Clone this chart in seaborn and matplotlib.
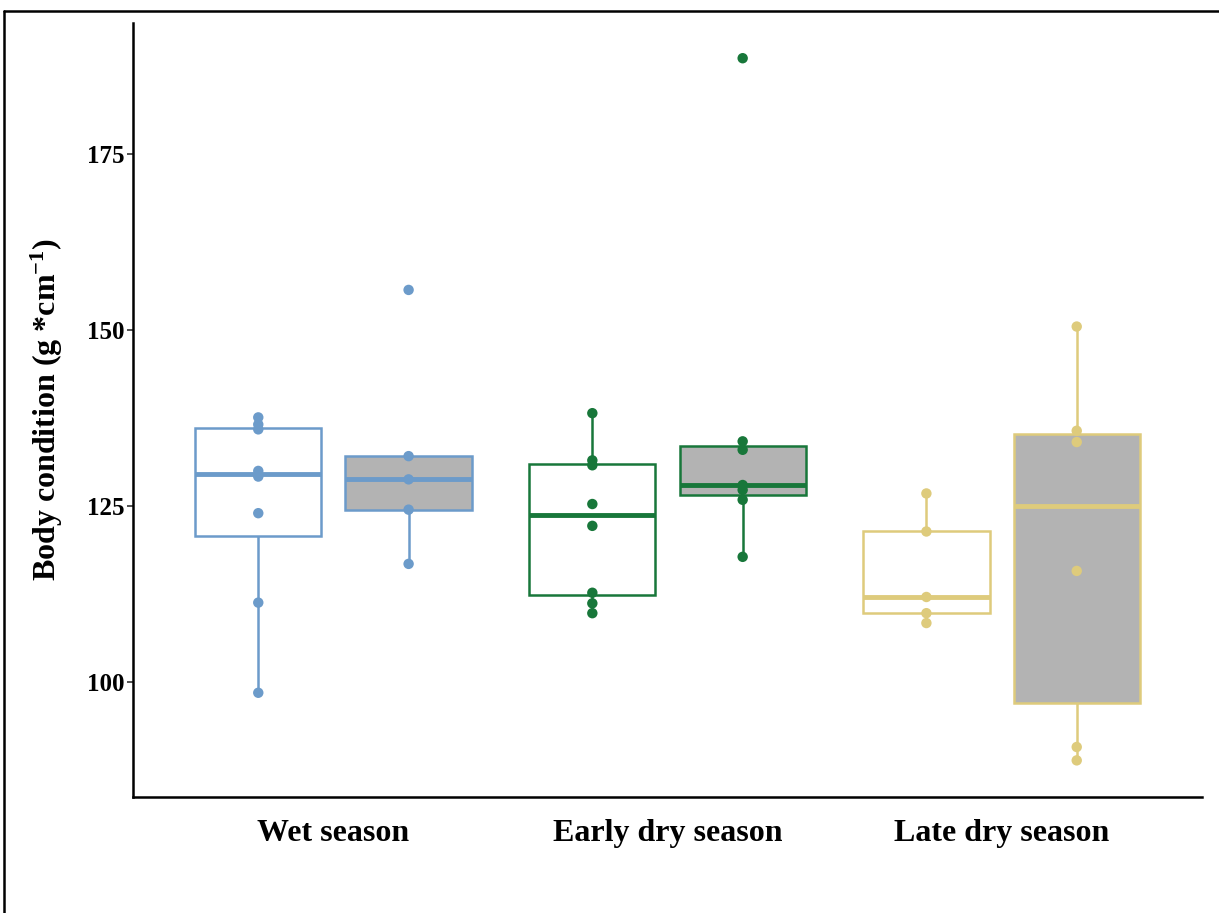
import numpy as np
import pandas as pd
import seaborn as sns
import matplotlib.pyplot as plt
from matplotlib.lines import Line2D

# ----------------------------------
# Data
# ----------------------------------
seasons = ["Wet season", "Early dry season", "Late dry season"]
groups = ["Group 1", "Group 2"]

wet_g1 = [137.6, 136.6, 135.9, 130.0, 129.2, 124.0, 111.3, 98.5]
wet_g2 = [155.7, 132.1, 128.8, 124.5, 116.8]
early_g1 = [138.2, 131.5, 130.8, 125.3, 122.2, 112.7, 111.2, 109.8]
early_g2 = [188.6, 134.2, 133.0, 128.0, 127.3, 125.9, 117.8]
late_g1 = [126.8, 121.4, 112.1, 109.8, 108.4]
late_g2 = [150.5, 135.7, 134.1, 115.8, 90.8, 88.9]

season_colors = ["#6C9BCA", "#18773A", "#DECB7C"]
fill_colors = {"Group 1": "white", "Group 2": "#B3B3B3"}

rows = []
for season, g1, g2 in zip(seasons, [wet_g1, early_g1, late_g1], [wet_g2, early_g2, late_g2]):
    rows += [(season, "Group 1", v) for v in g1]
    rows += [(season, "Group 2", v) for v in g2]
df = pd.DataFrame(rows, columns=["season", "group", "body_condition"])

# ----------------------------------
# Plot
# ----------------------------------
sns.set_style("white")
plt.rcParams["font.family"] = ["Liberation Serif", "DejaVu Serif"]
plt.rcParams["mathtext.fontset"] = "custom"
plt.rcParams["mathtext.rm"] = "Liberation Serif"
plt.rcParams["mathtext.default"] = "regular"
plt.rcParams["text.color"] = "black"
plt.rcParams["axes.labelcolor"] = "black"
plt.rcParams["xtick.color"] = "black"
plt.rcParams["ytick.color"] = "black"

fig = plt.figure(figsize=(12.19, 9.13), dpi=100)
ax = fig.add_axes([133 / 1219, 1 - 797 / 913, (1202 - 133) / 1219, (797 - 23) / 913])

for season, col in zip(seasons, season_colors):
    sub = df[df["season"] == season]
    sns.boxplot(data=sub, x="season", y="body_condition", hue="group",
                order=seasons, hue_order=groups, palette=fill_colors,
                linecolor=col, linewidth=1.8, width=0.9, gap=0.16,
                showcaps=False, showfliers=False, whis=1.5,
                medianprops=dict(linewidth=3.5, color=col),
                legend=False, ax=ax)
    n_before = len(ax.collections)
    sns.stripplot(data=sub, x="season", y="body_condition", hue="group",
                  order=seasons, hue_order=groups,
                  palette={g: col for g in groups}, dodge=True, jitter=False,
                  size=7.5, linewidth=0, zorder=4, legend=False, ax=ax)
    # stripplot dodges with a fixed 0.8 width; widen to match the 0.9 boxes
    for coll in ax.collections[n_before:]:
        off = coll.get_offsets()
        if len(off):
            base = np.round(off[:, 0])
            off[:, 0] = base + (off[:, 0] - base) * 1.125
            coll.set_offsets(off)

ax.set_xlim(-0.6, 2.6)
ax.set_ylim(83.7, 193.6)
ax.set_yticks([100, 125, 150, 175])
ax.set_xlabel("")
ax.set_ylabel(r"Body condition (g *cm$^{-1}$)", fontsize=23, fontweight="bold",
              color="black", labelpad=16)

for side in ["top", "right"]:
    ax.spines[side].set_visible(False)
for side in ["left", "bottom"]:
    ax.spines[side].set_linewidth(1.8)
    ax.spines[side].set_color("black")

ax.tick_params(axis="y", which="major", left=True, length=4, width=1.2,
               color="#333333", labelcolor="black", pad=2)
ax.tick_params(axis="x", which="major", bottom=False, labelcolor="black", pad=12)
for lab in ax.get_yticklabels():
    lab.set_fontsize(18)
    lab.set_fontweight("bold")
for lab in ax.get_xticklabels():
    lab.set_fontsize(23)
    lab.set_fontweight("bold")

# frame lines of the original screenshot (top and left)
fig.add_artist(Line2D([4 / 1219, 1], [1 - 11 / 913, 1 - 11 / 913], color="black", linewidth=1.8))
fig.add_artist(Line2D([4 / 1219, 4 / 1219], [0, 1 - 11 / 913], color="black", linewidth=1.8))

fig.savefig("out.png", dpi=100, facecolor="white")
